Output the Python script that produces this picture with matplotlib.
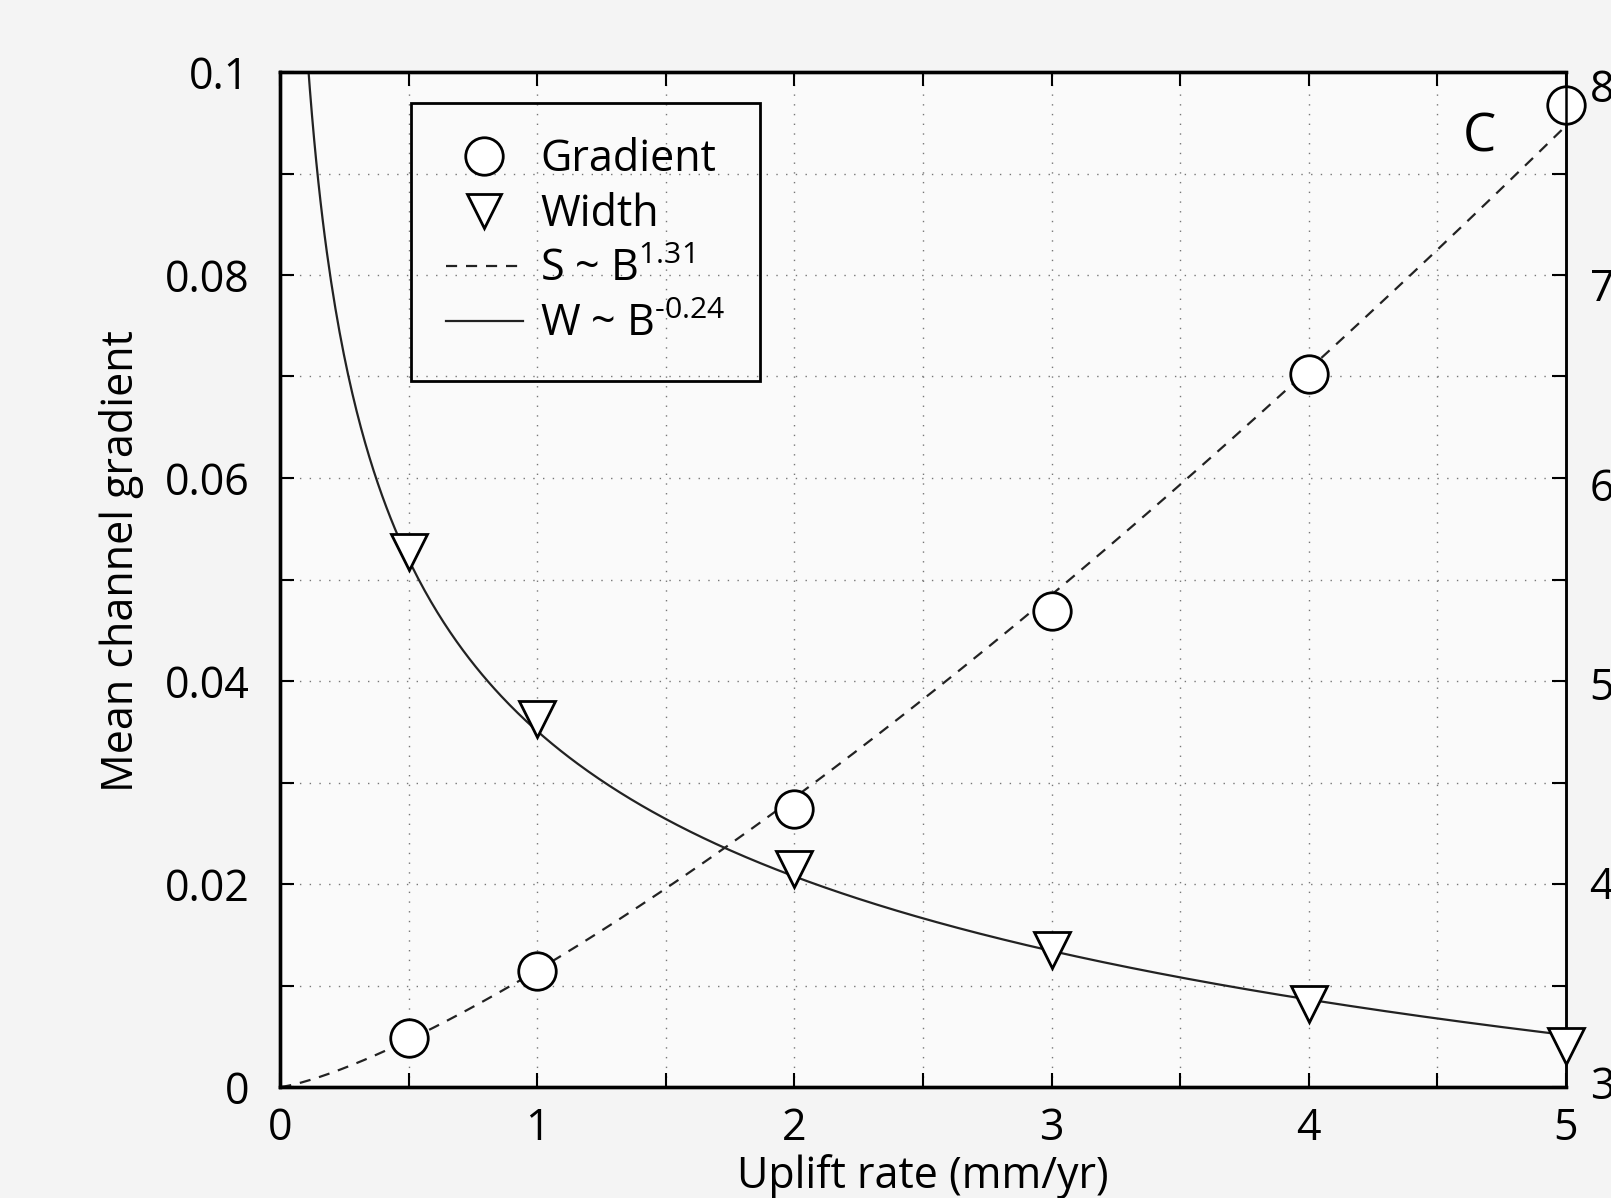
import numpy as np
import matplotlib.pyplot as plt
from matplotlib.lines import Line2D

uplift = [0.5, 1, 2, 3, 4, 5]
gradient = [0.0048, 0.0114, 0.0274, 0.0469, 0.0702, 0.0967]
width = [5.66, 4.82, 4.07, 3.66, 3.39, 3.18]

# power-law fits
s_coef, s_exp = 0.0115, 1.31
w_coef, w_exp = 4.76, -0.24

x_ticks = [0, 1, 2, 3, 4, 5]
y_ticks = [0, 0.02, 0.04, 0.06, 0.08, 0.1]
y_ticklabels = ['0', '0.02', '0.04', '0.06', '0.08', '0.1']
y2_ticks = [3, 4, 5, 6, 7, 8]

plt.rcParams['font.family'] = ['Open Sans', 'DejaVu Sans']
plt.rcParams['mathtext.fontset'] = 'custom'
plt.rcParams['mathtext.rm'] = 'Open Sans'
plt.rcParams['mathtext.it'] = 'Open Sans'
fs = 31

fig = plt.figure(figsize=(16.11, 11.98), dpi=100)
fig.patch.set_facecolor('#f4f4f4')
W, H = 1611, 1198
ax = fig.add_axes([280 / W, 1 - 1087 / H, 1286 / W, 1015 / H])
ax.set_facecolor('#fafafa')
ax2 = ax.twinx()

bb = np.linspace(0.001, 5, 600)
ax.plot(bb, s_coef * bb ** s_exp, color='#222222', lw=1.6, ls=(0, (5, 4)), zorder=2)
ax.plot(uplift, gradient, 'o', ms=27, mfc='white', mec='black', mew=2, zorder=3,
        clip_on=False)
bw = np.linspace(0.05, 5, 600)
ax2.plot(bw, w_coef * bw ** w_exp, color='#222222', lw=1.6, zorder=2)
ax2.plot(uplift, width, 'v', ms=26, mfc='white', mec='black', mew=2, zorder=3,
         clip_on=False)

ax.set_xlim(0, 5)
ax.set_ylim(0, 0.1)
# right-hand scale as labelled in the original figure
ax2.set_ylim(2.974, 8.067)

ax.set_xticks(x_ticks)
ax.set_xticks(np.arange(0, 5.01, 0.5), minor=True)
ax.set_yticks(y_ticks)
ax.set_yticklabels(y_ticklabels)
ax.set_yticks(np.arange(0, 0.1001, 0.01), minor=True)
ax2.set_yticks(y2_ticks)

ax.grid(True, which='both', color='#777777', ls=(0, (1, 6)), lw=1)
ax.tick_params(which='both', direction='in', top=True, right=True, length=10,
               width=1.5, labelsize=fs)
ax.tick_params(axis='y', which='major', pad=22)
ax.tick_params(axis='x', which='major', pad=14)
ax2.tick_params(length=0, labelsize=fs, pad=17)

for a in (ax, ax2):
    for s in a.spines.values():
        s.set_linewidth(2.4)
    a.spines['right'].set_linewidth(1.8)

ax.set_xlabel('Uplift rate (mm/yr)', fontsize=fs, labelpad=2)
ax.set_ylabel('Mean channel gradient', fontsize=fs)
ax.yaxis.set_label_coords(-0.106, 0.518)

ax2.text(0.933, 0.962, 'C', transform=ax.transAxes, fontsize=38,
         ha='center', va='top')

handles = [
    Line2D([], [], ls='none', marker='o', ms=27, mfc='white', mec='black', mew=2),
    Line2D([], [], ls='none', marker='v', ms=24, mfc='white', mec='black', mew=2),
    Line2D([], [], color='#222222', lw=1.6, ls=(0, (5, 4))),
    Line2D([], [], color='#222222', lw=1.6),
]
labels = ['Gradient', 'Width', r'S ~ B$^{1.31}$', r'W ~ B$^{\text{-}0.24}$']
leg = ax2.legend(handles, labels, loc='upper left', bbox_to_anchor=(0.102, 0.969),
                 borderaxespad=0, fontsize=fs, frameon=True, fancybox=False,
                 edgecolor='black', framealpha=1, handlelength=1.8,
                 handletextpad=0.4, labelspacing=0.24, borderpad=0.8)
leg.get_frame().set_linewidth(2)
leg.get_frame().set_facecolor('none')

fig.savefig('out.png', dpi=100, facecolor=fig.get_facecolor())
